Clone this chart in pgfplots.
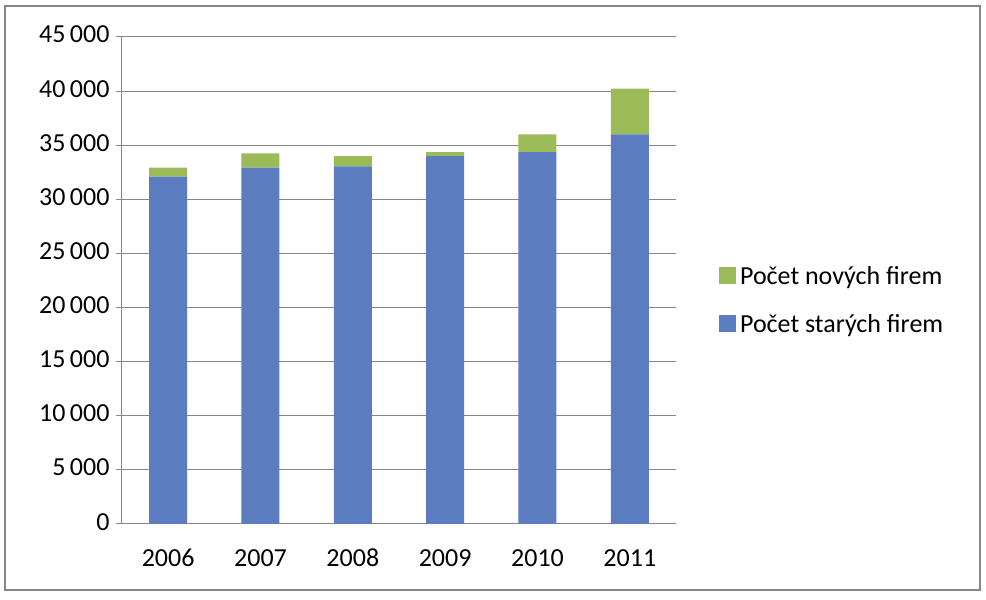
\documentclass[border=0pt]{standalone}
\usepackage{pgfplots}
\pgfplotsset{compat=1.18}
\usepackage{fontspec}
\setmainfont{Carlito}
\definecolor{barblue}{RGB}{91,124,190}
\definecolor{bargreen}{RGB}{155,187,89}
\definecolor{gridgray}{RGB}{134,134,134}
\begin{document}
\begin{tikzpicture}[x=1pt,y=1pt]
\path[use as bounding box] (0,0) rectangle (986,600);
\draw[color=gridgray, line width=2pt] (5,10) rectangle (980,594);
\begin{axis}[
  at={(122pt,76pt)}, anchor=south west,
  scale only axis, width=554pt, height=487pt,
  ybar stacked, bar width=38pt,
  xmin=-0.5, xmax=5.5, ymin=0, ymax=45000,
  xtick={0,...,5}, xticklabels={2006,2007,2008,2009,2010,2011},
  typeset ticklabels with strut,
  extra x ticks={-0.5,0.5,1.5,2.5,3.5,4.5,5.5},
  extra x tick labels={},
  extra x tick style={major tick length=7pt, tick align=outside, tick style={color=gridgray, line width=1pt}},
  major x tick style={draw=none},
  ytick={0,5000,...,45000},
  scaled y ticks=false,
  ymajorgrids, grid style={color=gridgray, line width=1pt},
  major y tick style={color=gridgray, line width=1pt},
  major tick length=6pt, tick align=outside,
  axis x line*=bottom, axis y line*=left,
  axis line style={color=gridgray, line width=1pt},
  /pgf/number format/.cd, 1000 sep={\,}, assume math mode=true,
  /pgfplots/.cd,
  ticklabel style={font=\fontsize{26}{30}\selectfont, text=black},
  yticklabel style={xshift=-3pt},
  xticklabel style={yshift=-12pt},
  legend style={at={(1.072,0.537)}, anchor=north west, draw=none, fill=none,
    font=\fontsize{26}{30}\selectfont, row sep=24pt,
    nodes={inner xsep=4pt}},
  legend cell align=left,
  legend image code/.code={\fill[#1] (0pt,-8pt) rectangle (17pt,9pt);},
  reverse legend,
]
\addplot[fill=barblue, draw=none] coordinates {(0,32100) (1,32920) (2,33040) (3,33990) (4,34360) (5,36010)};
\addplot[fill=bargreen, draw=none] coordinates {(0,820) (1,1320) (2,950) (3,370) (4,1650) (5,4210)};
\legend{Počet starých firem, Počet nových firem}
\end{axis}
\end{tikzpicture}
\end{document}
